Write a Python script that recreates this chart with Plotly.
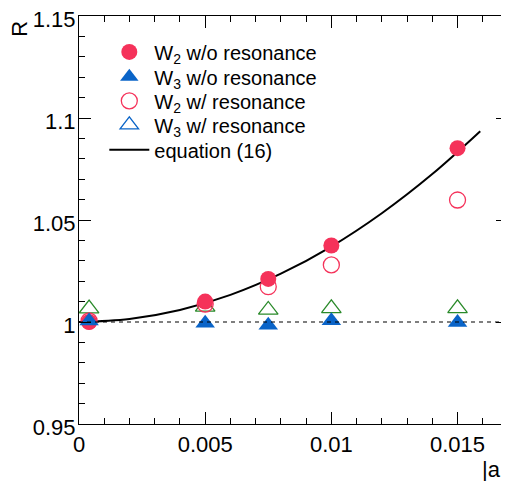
import plotly.graph_objects as go

# ---- data ----
a_vals = [0.0004, 0.005, 0.0075, 0.01, 0.015]
w2_no_res = [1.0000, 1.0100, 1.0211, 1.0375, 1.0852]
w3_no_res = [1.0005, 0.9994, 0.9984, 1.0006, 0.9998]
w2_res = [1.0005, 1.0088, 1.0173, 1.0280, 1.0598]
w3_res = [1.0066, 1.0074, 1.0059, 1.0067, 1.0067]

eq_a = [0.0, 0.002, 0.004, 0.006, 0.008, 0.010, 0.012, 0.014, 0.0159]
eq_R = [1.0, 1.0015, 1.0059, 1.0133, 1.0237, 1.0370, 1.0533, 1.0725, 1.0935]

x_range = [0, 0.017]
y_range = [0.95, 1.15]
x_ticks = [0, 0.005, 0.01, 0.015]
x_ticklabels = ["0", "0.005", "0.01", "0.015"]
y_ticks = [0.95, 1.0, 1.05, 1.1, 1.15]
y_ticklabels = ["0.95", "1", "1.05", "1.1", "1.15"]

legend_names = ["W<sub>2</sub> w/o resonance", "W<sub>3</sub> w/o resonance",
                "W<sub>2</sub> w/ resonance", "W<sub>3</sub> w/ resonance", "equation (16)"]

RED = "#f5325a"
BLUE = "#0a64c8"
GREEN = "#2a8a2a"
FONT = "Liberation Sans, Arial, Helvetica, sans-serif"

fig = go.Figure()

fig.add_trace(go.Scatter(
    x=eq_a, y=eq_R, mode="lines", line=dict(color="black", width=2, shape="spline"),
    showlegend=False, hoverinfo="skip"))

fig.add_trace(go.Scatter(
    x=a_vals, y=w3_res, mode="markers", showlegend=False,
    marker=dict(symbol="triangle-up-open", size=17, color=GREEN, line=dict(width=1.3, color=GREEN))))
fig.add_trace(go.Scatter(
    x=a_vals, y=w2_res, mode="markers", showlegend=False,
    marker=dict(symbol="circle-open", size=16, color=RED, line=dict(width=1.3, color=RED))))
fig.add_trace(go.Scatter(
    x=a_vals, y=w2_no_res, mode="markers", showlegend=False,
    marker=dict(symbol="circle", size=16, color=RED, line=dict(width=0))))
fig.add_trace(go.Scatter(
    x=a_vals, y=w3_no_res, mode="markers", showlegend=False,
    marker=dict(symbol="triangle-up", size=17, color=BLUE, line=dict(width=0))))

# legend entries (as in the reference legend), one small legend per row
leg_markers = [
    dict(symbol="circle", size=16, color=RED, line=dict(width=0)),
    dict(symbol="triangle-up", size=17, color=BLUE, line=dict(width=0)),
    dict(symbol="circle-open", size=16, color=RED, line=dict(width=1.3, color=RED)),
    dict(symbol="triangle-up-open", size=17, color=BLUE, line=dict(width=1.3, color=BLUE)),
]
leg_ids = ["legend", "legend2", "legend3", "legend4", "legend5"]
for i, mk in enumerate(leg_markers):
    fig.add_trace(go.Scatter(x=[None], y=[None], mode="markers", name=legend_names[i],
                             marker=mk, legend=leg_ids[i]))
fig.add_trace(go.Scatter(x=[None], y=[None], mode="lines", name=legend_names[4],
                         line=dict(color="black", width=2), legend=leg_ids[4]))

fig.add_hline(y=1.0, line=dict(color="black", width=1.2, dash="4px,4px"))

axis_common = dict(
    showgrid=False, zeroline=False, showline=True, linecolor="black", linewidth=1.2,
    mirror="ticks", ticks="inside", ticklen=12, tickwidth=1.2, tickcolor="black",
    tickfont=dict(family=FONT, size=22, color="black"), ticklabeloverflow="allow",
    automargin=False,
)
fig.update_xaxes(range=x_range, tickvals=x_ticks, ticktext=x_ticklabels,
                 minor=dict(dtick=0.001, ticklen=6, ticks="inside", tickcolor="black", tickwidth=1.2),
                 **axis_common)
fig.update_yaxes(range=y_range, tickvals=y_ticks, ticktext=y_ticklabels,
                 minor=dict(dtick=0.01, ticklen=6, ticks="inside", tickcolor="black", tickwidth=1.2),
                 ticklabelstandoff=-2, ticklabelshift=3,
                 **axis_common)

fig.add_annotation(text="R", xref="paper", yref="paper", x=-0.1375, y=0.993,
                   xanchor="center", yanchor="top", textangle=-90, showarrow=False,
                   font=dict(family=FONT, size=22, color="black"))
fig.add_annotation(text="|a|", xref="paper", yref="paper", x=1.0, y=-0.075,
                   xanchor="right", yanchor="top", showarrow=False,
                   font=dict(family=FONT, size=22, color="black"))

leg_style = dict(x=0.059, xanchor="left", yanchor="middle", bgcolor="rgba(0,0,0,0)",
                 itemwidth=40, font=dict(family=FONT, size=20, color="black"))
row_y = [0.912, 0.851, 0.792, 0.733, 0.672]

# page body has an 8px margin in the browser: figure is sized/placed to compensate
fig.update_layout(
    width=501, height=473,
    margin=dict(l=71, r=1, t=8, b=57),
    paper_bgcolor="white", plot_bgcolor="white",
    legend=dict(y=row_y[0], **leg_style),
    legend2=dict(y=row_y[1], **leg_style),
    legend3=dict(y=row_y[2], **leg_style),
    legend4=dict(y=row_y[3], **leg_style),
    legend5=dict(y=row_y[4], **leg_style),
)

fig.write_html("out.html")
